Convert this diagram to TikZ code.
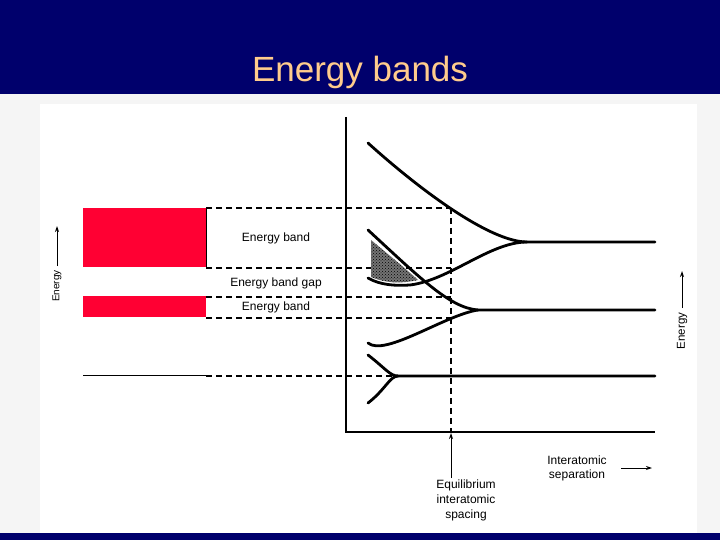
\documentclass[tikz,border=0pt]{standalone}
\usepackage{fontspec}
\setmainfont{Liberation Sans}
\usetikzlibrary{arrows.meta,patterns}
\definecolor{navy}{RGB}{0,0,108}
\definecolor{peach}{RGB}{255,204,140}
\definecolor{bandred}{RGB}{255,0,51}
\definecolor{bggray}{RGB}{245,245,245}
\begin{document}
\begin{tikzpicture}[x=1pt,y=-1pt,
  curve/.style={line width=2.8pt, line cap=round},
  guide/.style={line width=1.2pt, dash pattern=on 6pt off 4pt},
  axisline/.style={line width=1.4pt},
  lbl/.style={font=\fontsize{12}{14}\selectfont, inner sep=0pt},
  arr/.style={line width=1pt, -{Stealth[length=6pt,width=4pt]}}]
\useasboundingbox (0,0) rectangle (720,540);
\fill[bggray] (0,0) rectangle (720,540);
\fill[navy] (0,0) rectangle (720,94);
\fill[navy] (0,533) rectangle (720,540);
\fill[white] (40,104) rectangle (697,533);
\node[font=\fontsize{35}{40}\selectfont, text=peach, anchor=base, inner sep=0pt] (title) at (360,82) {Energy bands};

% red bands
\fill[bandred] (83,208) rectangle (206,267);
\fill[bandred] (83,296) rectangle (206,317);
\draw[line width=0.8pt] (206,208) -- (206,267);

% key coordinates
\coordinate (o) at (346,432);
\coordinate (ytop) at (346,117);
\coordinate (xend) at (655,432);
\coordinate (eq) at (451,432);
\coordinate (m1) at (527,242);
\coordinate (m2) at (478,310);
\coordinate (m3) at (398,376);

% dashed guides
\draw[guide] (206,208) -- (451,208);
\draw[guide] (206,268) -- (451,268);
\draw[guide] (206,297) -- (451,297);
\draw[guide] (206,318) -- (451,318);
\draw[guide] (206,376) -- (m3);
\draw[guide] (451,208) -- (eq);
\draw[line width=1.6pt] (83,375.5) -- (206,375.5);

% axes
\draw[axisline] (ytop) -- (o) -- (xend);

% shaded region
\fill[black!55] (371,240) .. controls (390,256) and (405,268) .. (418,280)
  .. controls (400,284) and (385,283) .. (371,277) -- cycle;
\fill[pattern=crosshatch dots, pattern color=black] (371,240) .. controls (390,256) and (405,268) .. (418,280)
  .. controls (400,284) and (385,283) .. (371,277) -- cycle;

% curves
\draw[curve] (368,143) .. controls (420,190) and (490,242) .. (m1) -- (655,242);
\draw[curve] (368,278) .. controls (380,285) and (395,286) .. (410,285)
  .. controls (450,280) and (490,242) .. (m1);
\draw[curve] (368,230) .. controls (420,278) and (450,308) .. (m2) -- (655,310);
\draw[curve] (368,343) .. controls (385,357) and (445,315) .. (m2);
\draw[curve] (368,355) .. controls (385,368) and (390,376) .. (m3) -- (655,376);
\draw[curve] (368,403) .. controls (385,390) and (390,376) .. (m3);

% labels
\node[lbl] (lb1) at (276,238) {Energy band};
\node[lbl] (lgap) at (276,283) {Energy band gap};
\node[lbl] (lb2) at (276,307) {Energy band};

\node[lbl, rotate=90, font=\fontsize{10}{11}\selectfont] (eleft) at (57,286) {Energy};
\coordinate (elt) at (57,226);
\draw[arr] (57,266) -- (elt);
\node[lbl, rotate=90, font=\fontsize{11.5}{13}\selectfont] (eright) at (682,331) {Energy};
\coordinate (ert) at (682,271);
\draw[arr] (682,308) -- (ert);

\node[lbl, align=center] (sep) at (577,468) {Interatomic\\separation};
\coordinate (sepend) at (652,468);
\draw[arr] (621,468) -- (sepend);

\node[lbl, align=center, font=\fontsize{12}{15}\selectfont] (eqlbl) at (466,500) {Equilibrium\\interatomic\\spacing};
\coordinate (eqbot) at (451,478);
\draw[arr] (eqbot) -- (451,433);
\end{tikzpicture}
\end{document}
